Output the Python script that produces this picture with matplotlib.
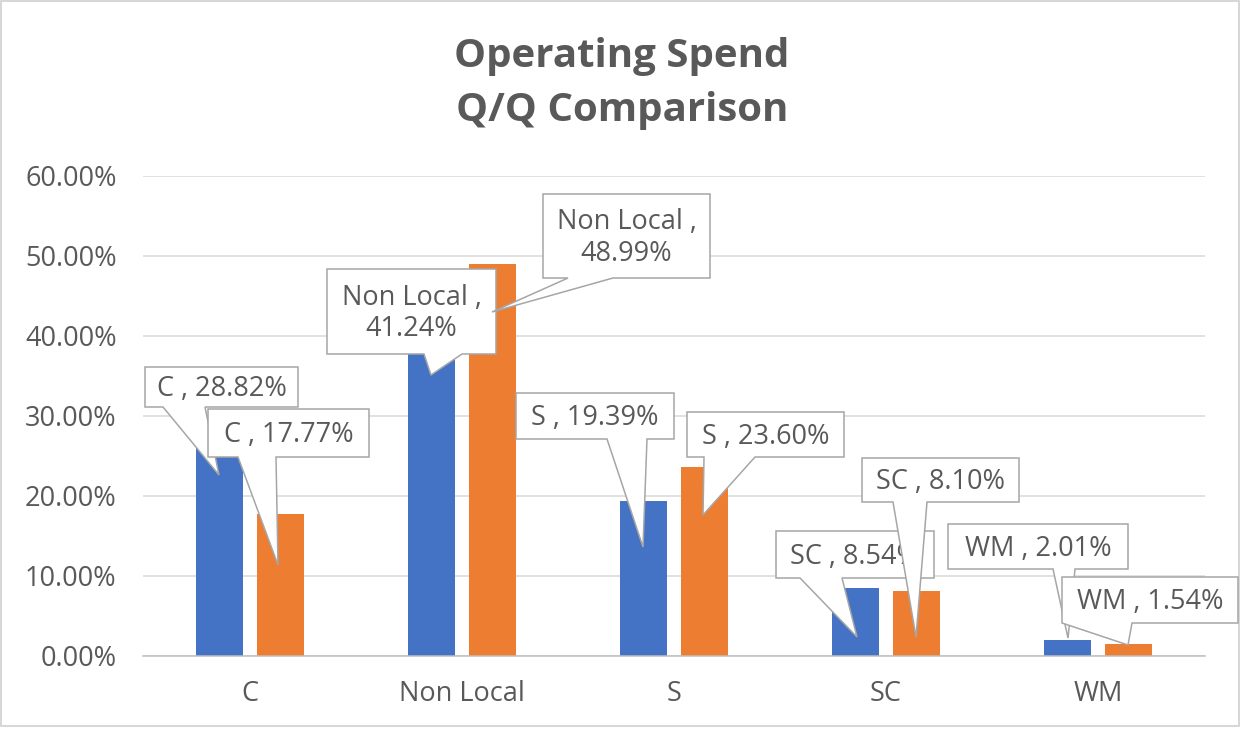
import matplotlib
matplotlib.use("Agg")
import matplotlib.pyplot as plt
from matplotlib.patches import Polygon, Rectangle
from matplotlib.transforms import Affine2D
import numpy as np

# ---- data ----
categories = ["C", "Non Local", "S", "SC", "WM"]
series_a = [28.82, 41.24, 19.39, 8.54, 2.01]   # blue (earlier quarter)
series_b = [17.77, 48.99, 23.60, 8.10, 1.54]   # orange (later quarter)
y_ticks = [0, 10, 20, 30, 40, 50, 60]
title_lines = ["Operating Spend", "Q/Q Comparison"]

# ---- style ----
W, H = 1249, 729
BLUE = "#4472C4"
ORANGE = "#ED7D31"
TXT = "#595959"
GRID = "#d9d9d9"
FONT = "Open Sans"
FS = 19.5

fig = plt.figure(figsize=(W / 100, H / 100), dpi=100)
fig.patch.set_facecolor("white")

# pixel (y-down) -> figure transform for layout elements
pix = Affine2D().scale(1 / W, -1 / H).translate(0, 1) + fig.transFigure

ax = fig.add_axes([143 / W, (H - 656) / H, (1205 - 143) / W, 480 / H])
x = np.arange(len(categories))
bw = 0.222
off = 0.144
ax.bar(x - off, series_a, width=bw, color=BLUE, zorder=2)
ax.bar(x + off, series_b, width=bw, color=ORANGE, zorder=2)

ax.set_xlim(-0.505, 4.505)
ax.set_ylim(0, 60)
ax.set_yticks(y_ticks)
ax.set_yticklabels([f"{v:.2f}%" for v in y_ticks], fontsize=FS, color=TXT, family=FONT)
ax.set_xticks(x)
ax.set_xticklabels(categories, fontsize=FS, color=TXT, family=FONT)
ax.tick_params(axis="y", length=0, pad=19)
ax.tick_params(axis="x", length=0, pad=17)
ax.grid(axis="y", color=GRID, linewidth=1.1, zorder=0)
ax.set_axisbelow(True)
for s in ["top", "right", "left"]:
    ax.spines[s].set_visible(False)
ax.spines["bottom"].set_color("#bfbfbf")
ax.spines["bottom"].set_linewidth(1.1)

# title
for line, py in zip(title_lines, [56, 111]):
    fig.text(622 / W, 1 - py / H, line, ha="center", va="center", fontsize=29,
             fontweight="bold", color=TXT, family=FONT)

# ---- callouts (layout in image pixels: box x0,x1,y0,y1, base-left, base-right, tip) ----
layout_a = [
    (145, 298, 367, 407, 163, 205, (219, 475)),
    (327, 496, 269, 354, 424, 462, (431, 375)),
    (516, 674, 393, 439, 607, 647, (643, 547)),
    (776, 934, 531, 578, 800, 842, (857, 637)),
    (948, 1128, 524, 569, 1053, 1075, (1068, 638)),
]
layout_b = [
    (208, 369, 409, 457, 238, 276, (278, 565)),
    (543, 710, 194, 278, 568, 613, (492, 312)),
    (687, 844, 412, 457, 704, 755, (703, 515)),
    (862, 1019, 458, 502, 893, 927, (916, 637)),
    (1062, 1238, 577, 623, 1062, 1132, (1128, 645)),
]


def label_text(cat, val):
    if cat == "Non Local":
        return f"{cat} ,\n{val:.2f}%"
    return f"{cat} , {val:.2f}%"


def callout(lay, text, z):
    x0, x1, y0, y1, bl, br, tip = lay
    verts = [(x0, y0), (x1, y0), (x1, y1), (br, y1), tip, (bl, y1), (x0, y1)]
    poly = Polygon(verts, closed=True, transform=pix, facecolor="white",
                   edgecolor="#a6a6a6", linewidth=1.1, zorder=z)
    fig.add_artist(poly)
    fig.text((x0 + x1) / 2 / W, 1 - ((y0 + y1) / 2 + 2) / H, text, ha="center", va="center",
             fontsize=FS, color=TXT, family=FONT, zorder=z + 0.5, linespacing=1.15)


z = 10
for cat, v, lay in zip(categories, series_a, layout_a):
    callout(lay, label_text(cat, v), z)
    z += 1
for cat, v, lay in zip(categories, series_b, layout_b):
    callout(lay, label_text(cat, v), z)
    z += 1

# chart border
fig.add_artist(Rectangle((1, 1), 1238, 725, transform=pix, fill=False,
                         edgecolor="#d0d0d0", linewidth=1.2, zorder=1))

fig.savefig("out.png", dpi=100, facecolor="white")
